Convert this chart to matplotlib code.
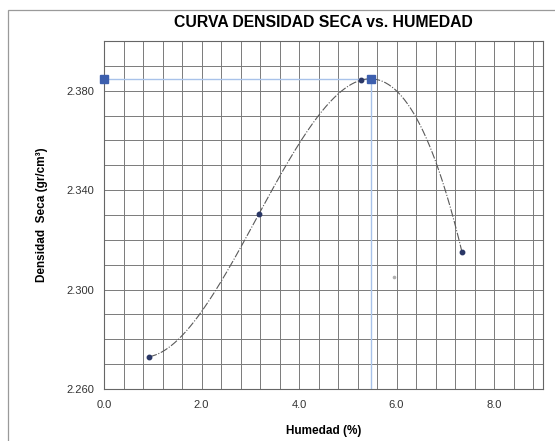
import numpy as np
import matplotlib.pyplot as plt
from matplotlib.patches import Rectangle
from matplotlib.ticker import MultipleLocator, FormatStrFormatter

plt.rcParams['font.family'] = ['Liberation Sans', 'DejaVu Sans']

# ensayo proctor: humedad (%) y densidad seca (gr/cm3)
humedad = [0.93, 3.18, 5.28, 7.34]
densidad = [2.273, 2.3305, 2.3843, 2.3153]

# punto suelto en la hoja escaneada
extra_x = [5.95]
extra_y = [2.305]

# humedad optima y maxima densidad seca
opt_humedad = 5.48
max_densidad = 2.3846

y_ticks = [2.26, 2.30, 2.34, 2.38]
x_ticks = [0.0, 2.0, 4.0, 6.0, 8.0]

fig = plt.figure(figsize=(5.55, 4.41), dpi=100)
ax = fig.add_axes([0.1874, 0.1179, 0.7906, 0.7891])

# marco de la hoja
fig.patches.append(Rectangle((0.0144, -0.1), 1.2, 1.077, transform=fig.transFigure,
                             fill=False, edgecolor='#9a9a9a', linewidth=0.9))

# curva de ajuste (polinomio de 3er grado, como la linea de tendencia)
coef = np.polyfit(humedad, densidad, 3)
xs = np.linspace(min(humedad), max(humedad), 300)
ax.plot(xs, np.polyval(coef, xs), color='#5a5a5a', linewidth=0.8,
        linestyle=(0, (7, 1.5, 1, 1.5)), zorder=3)

ax.plot(humedad, densidad, 'o', color='#2a3766', markersize=3.2, zorder=4)
ax.plot(extra_x, extra_y, 'o', color='#b0b0b0', markersize=1.6, zorder=4)

# lineas de referencia
ax.plot([0, opt_humedad], [max_densidad, max_densidad], color='#a8c2ea', linewidth=1.0, zorder=2)
ax.plot([opt_humedad, opt_humedad], [2.26, max_densidad], color='#a8c2ea', linewidth=1.0, zorder=2)
ax.plot([0, opt_humedad], [max_densidad, max_densidad], 's', color='#3d5fae',
        markersize=6, clip_on=False, zorder=5)

ax.set_xlim(0, 9.0)
ax.set_ylim(2.26, 2.40)
ax.set_xticks(x_ticks)
ax.set_yticks(y_ticks)
ax.xaxis.set_minor_locator(MultipleLocator(0.4))
ax.yaxis.set_minor_locator(MultipleLocator(0.01))
ax.xaxis.set_major_formatter(FormatStrFormatter('%.1f'))
ax.yaxis.set_major_formatter(FormatStrFormatter('%.3f'))

ax.grid(which='both', color='#7a7a7a', linewidth=0.7)
ax.set_axisbelow(True)
ax.tick_params(which='both', length=0, labelsize=8, colors='#333333')
ax.tick_params(axis='x', pad=8)
ax.tick_params(axis='y', pad=7)
for s in ax.spines.values():
    s.set_color('#666666')
    s.set_linewidth(0.8)

ax.set_title('CURVA DENSIDAD SECA vs. HUMEDAD', fontsize=11.3, fontweight='bold', pad=10)
ax.set_xlabel('Humedad (%)', fontsize=8.5, fontweight='bold', labelpad=11)
ax.set_ylabel('Densidad  Seca (gr/cm³)', fontsize=8.5, fontweight='bold', labelpad=13)

fig.savefig('out.png', dpi=100)
